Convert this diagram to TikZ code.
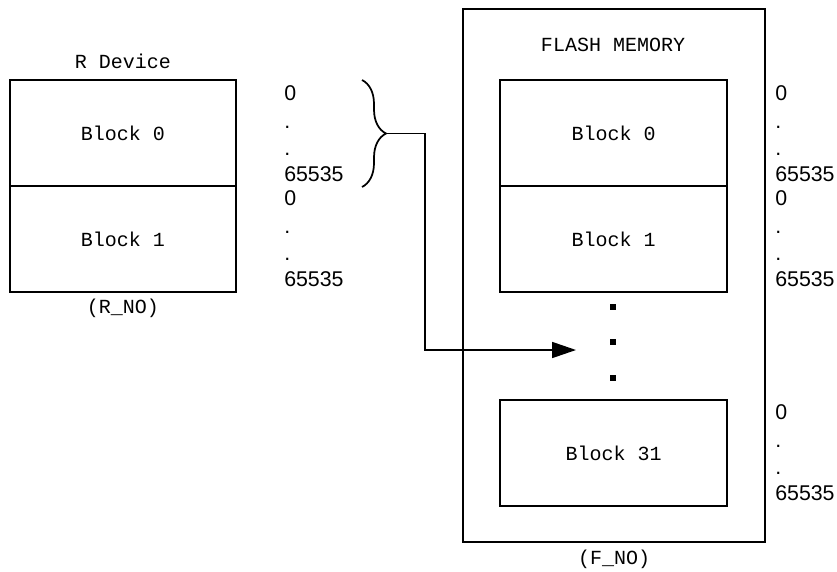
\documentclass[tikz,border=0pt]{standalone}
\usepackage{fontspec}
\setmainfont{Liberation Sans}
\newfontfamily\blockfont{Liberation Mono}
\usetikzlibrary{arrows.meta, positioning, decorations.pathreplacing}

\begin{document}
\begin{tikzpicture}[
    x=0.75pt, y=-0.75pt,
    node distance=0pt,
    blk/.style={rectangle, draw, line width=1.3pt, minimum width=170pt, minimum height=79.5pt, inner sep=0pt, outer sep=0pt, font=\blockfont\fontsize{15}{18}\selectfont},
    outer/.style={rectangle, draw, line width=1.3pt, minimum width=226.5pt, minimum height=399.75pt, inner sep=0pt},
    title/.style={font=\blockfont\fontsize{15}{18}\selectfont, inner sep=0pt},
    num/.style={anchor=base west, inner sep=0pt, font=\fontsize{16}{19}\selectfont},
    sqdot/.style={rectangle, fill, minimum size=4pt, inner sep=0pt},
    arrow/.style={-{Triangle[length=18pt, width=12pt]}, line width=1.3pt}
]
\useasboundingbox (0,0) rectangle (837,571);

% R Device
\node[blk] (rblk0) at (123,133) {Block 0};
\node[blk, below=of rblk0] (rblk1) {Block 1};
\node[title, above=8pt of rblk0] (rdev) {R Device};
\node[title, below=5pt of rblk1] (rno) {(R\_NO)};

% Flash memory
\node[outer] (flash) at (614,275.5) {};
\node[title] (fltitle) at (613,45) {FLASH MEMORY};
\node[blk] (fblk0) at (613.5,133) {Block 0};
\node[blk, below=of fblk0] (fblk1) {Block 1};
\node[blk] (fblk31) at (613.5,453) {Block 31};
\node[title, below=5pt of flash] (fno) {(F\_NO)};
\foreach \yy [count=\i] in {307,342,378}
    \node[sqdot] (dot\i) at (613,\yy) {};

% address ranges
\foreach \xx/\yy in {284/100, 284/205, 775/100, 775/205, 775/419} {
    \node[num] (lo-\xx-\yy) at (\xx,\yy) {0};
    \node[num] (da-\xx-\yy) at (\xx,\yy+28) {.};
    \node[num] (db-\xx-\yy) at (\xx,\yy+55) {.};
    \node[num] (hi-\xx-\yy) at (\xx,\yy+81) {65535};
}

% brace and copy arrow
\draw[line width=1.3pt, decorate, decoration={brace, amplitude=18pt}] (362,80) -- (362,187);
\coordinate (btip) at (387,133.5);
\coordinate (ahead) at (576,350);
\draw[arrow] (btip) -- ++(38,0) |- (ahead);

\end{tikzpicture}
\end{document}
